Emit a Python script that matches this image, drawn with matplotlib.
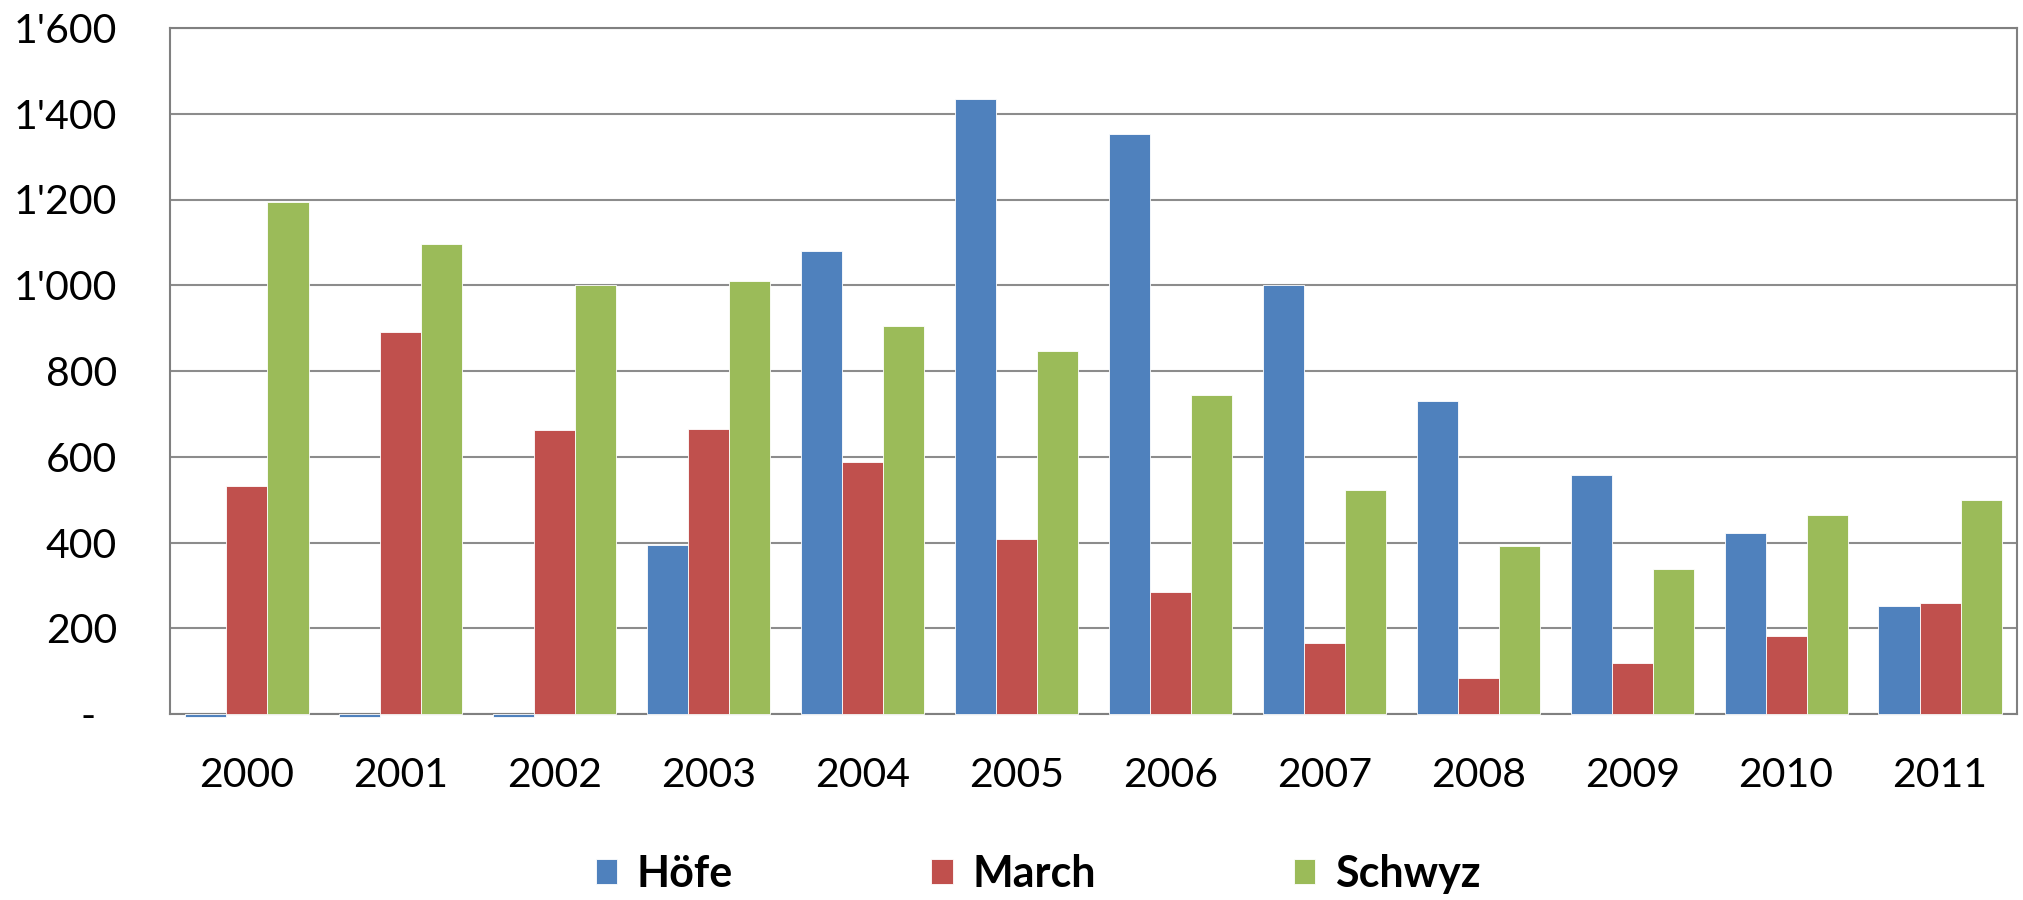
import matplotlib.pyplot as plt
import numpy as np
from matplotlib.ticker import FixedLocator

# values
years = ['2000', '2001', '2002', '2003', '2004', '2005',
         '2006', '2007', '2008', '2009', '2010', '2011']
hoefe = [-8, -8, -8, 394, 1080, 1434, 1352, 1001, 731, 558, 421, 251]
march = [532, 891, 662, 664, 587, 407, 284, 166, 83, 120, 183, 260]
schwyz = [1194, 1096, 1000, 1009, 905, 847, 744, 522, 393, 339, 465, 499]

series = [hoefe, march, schwyz]
labels = ['Höfe', 'March', 'Schwyz']
colors = ['#4F81BD', '#C0504D', '#9BBB59']
yticks = [0, 200, 400, 600, 800, 1000, 1200, 1400, 1600]
ytick_labels = ['-  ', '200', '400', '600', '800', "1'000", "1'200", "1'400", "1'600"]

plt.rcParams['font.family'] = ['Lato', 'DejaVu Sans']

fig = plt.figure(figsize=(20.24, 9), dpi=100)
ax = fig.add_axes([170 / 2024, 1 - 714 / 900, (2017 - 170) / 2024, (714 - 28) / 900])

x = np.arange(len(years))
w = 0.8 / 3
for i, (vals, lab, col) in enumerate(zip(series, labels, colors)):
    ax.bar(x + (i - 1) * w, vals, width=w, color=col, label=lab,
           edgecolor='white', linewidth=0.6, zorder=3, clip_on=False)

ax.set_xlim(-0.5, len(years) - 0.5)
ax.set_ylim(0, 1600)
ax.yaxis.set_major_locator(FixedLocator(yticks))
ax.set_yticklabels(ytick_labels)
ax.set_xticks(x)
ax.set_xticklabels(years)

ax.grid(axis='y', color='#8c8c8c', linewidth=1.5, zorder=0)
ax.set_axisbelow(True)
for s in ax.spines.values():
    s.set_color('#808080')
    s.set_linewidth(1.5)

ax.tick_params(axis='y', length=0, pad=38, labelsize=29.5)
ax.tick_params(axis='x', length=0, pad=31, labelsize=29.5)

fig.legend(loc='center', bbox_to_anchor=(1038 / 2024, 1 - 874 / 900), ncol=3,
           frameon=False, prop={'weight': 'bold', 'size': 31},
           handlelength=0.5, handleheight=0.5, handletextpad=0.45,
           columnspacing=4.6)

fig.savefig('out.png', dpi=100)
